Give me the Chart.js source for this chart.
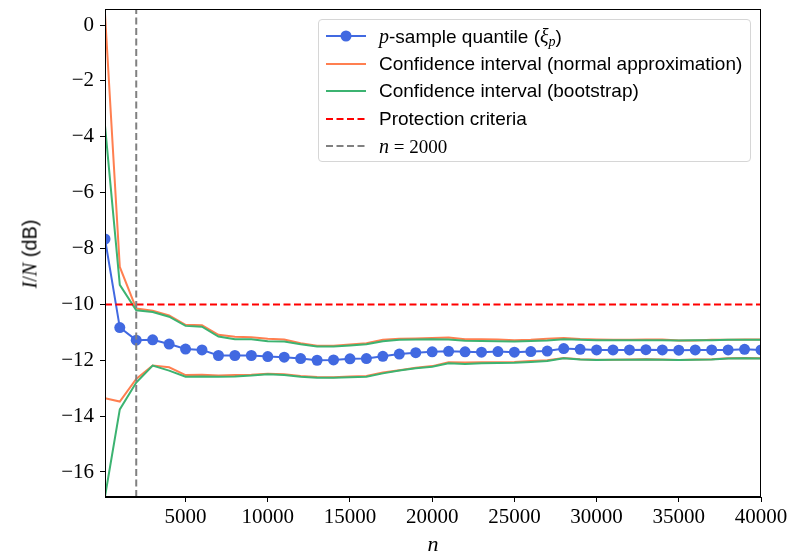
<!DOCTYPE html>
<html>
<head>
<meta charset="utf-8">
<script src="https://cdn.jsdelivr.net/npm/chart.js@4.4.1/dist/chart.umd.min.js"></script>
<style>
  body { margin: 0; background: #fff; }
  #wrap { position: relative; width: 789px; height: 557px; }
  #chart { position: absolute; left: 0; top: 0; }
  .serif { font-family: "Liberation Serif", "DejaVu Serif", serif; }
  .sans { font-family: "Liberation Sans", Arial, sans-serif; }
  #legend {
    position: absolute; left: 318px; top: 19px; width: 433px; height: 143px;
    border: 1px solid #d6d6d6; border-radius: 4px; background: rgba(255,255,255,0.8);
    box-sizing: border-box;
  }
  .row { position: absolute; left: 0; height: 28px; width: 100%; }
  .row svg { position: absolute; left: 7px; top: 0; }
  .row .txt {
    position: absolute; left: 60px; top: 0; line-height: 28px; font-size: 19px;
    white-space: nowrap; color: #000;
  }
  .row .txt i { font-size: 20px; }
  .row .txt sub { font-size: 14px; font-style: italic; vertical-align: -3px; line-height: 0; }
  #ylabel {
    position: absolute; left: 30px; top: 254px; transform: translate(-50%, -50%) rotate(-90deg);
    font-size: 20px; white-space: nowrap;
  }
  #xlabel {
    position: absolute; left: 433px; top: 544px; transform: translate(-50%, -50%);
    font-size: 22px;
  }
</style>
</head>
<body>
<div id="wrap">
  <canvas id="chart" width="789" height="557"></canvas>
  <div id="legend">
    <div class="row" style="top:2px">
      <svg width="44" height="28"><line x1="0" y1="14" x2="40" y2="14" stroke="#4169E1" stroke-width="2"/><circle cx="20" cy="14" r="5.5" fill="#4169E1"/></svg>
      <div class="txt sans"><i class="serif">p</i>-sample quantile (<i class="serif">ξ</i><sub class="serif">p</sub>)</div>
    </div>
    <div class="row" style="top:29.5px">
      <svg width="44" height="28"><line x1="0" y1="14" x2="40" y2="14" stroke="#FF7F50" stroke-width="2"/></svg>
      <div class="txt sans">Confidence interval (normal approximation)</div>
    </div>
    <div class="row" style="top:57px">
      <svg width="44" height="28"><line x1="0" y1="14" x2="40" y2="14" stroke="#3CB371" stroke-width="2"/></svg>
      <div class="txt sans">Confidence interval (bootstrap)</div>
    </div>
    <div class="row" style="top:84.5px">
      <svg width="44" height="28"><line x1="0" y1="14" x2="40" y2="14" stroke="#FF0000" stroke-width="2" stroke-dasharray="7,3.5"/></svg>
      <div class="txt sans">Protection criteria</div>
    </div>
    <div class="row" style="top:112px">
      <svg width="44" height="28"><line x1="0" y1="14" x2="40" y2="14" stroke="#808080" stroke-width="2" stroke-dasharray="7,3.5"/></svg>
      <div class="txt serif"><i>n</i> = 2000</div>
    </div>
  </div>
  <div id="ylabel"><i class="serif">I</i><span class="serif">/</span><i class="serif">N</i><span class="sans"> (dB)</span></div>
  <div id="xlabel" class="serif"><i>n</i></div>
</div>
<script>
const sampleSizes = [100, 1000, 2000, 3000, 4000, 5000, 6000, 7000, 8000, 9000, 10000,
  11000, 12000, 13000, 14000, 15000, 16000, 17000, 18000, 19000, 20000,
  21000, 22000, 23000, 24000, 25000, 26000, 27000, 28000, 29000, 30000,
  31000, 32000, 33000, 34000, 35000, 36000, 37000, 38000, 39000, 40000];

// p-sample quantile (dB)
const quantile = [-7.66, -10.83, -11.28, -11.27, -11.42, -11.6, -11.63, -11.83, -11.83, -11.83, -11.87,
  -11.89, -11.94, -12.0, -11.99, -11.95, -11.94, -11.86, -11.78, -11.73, -11.7,
  -11.68, -11.7, -11.71, -11.69, -11.71, -11.69, -11.67, -11.58, -11.61, -11.63,
  -11.63, -11.63, -11.62, -11.63, -11.64, -11.63, -11.63, -11.63, -11.61, -11.63];

// confidence interval, normal approximation
const normalUpper = [0.4, -8.66, -10.15, -10.23, -10.4, -10.73, -10.75, -11.09, -11.16, -11.18, -11.23,
  -11.26, -11.39, -11.48, -11.48, -11.44, -11.39, -11.27, -11.23, -11.22, -11.2,
  -11.19, -11.25, -11.25, -11.26, -11.28, -11.27, -11.23, -11.2, -11.24, -11.26,
  -11.27, -11.27, -11.26, -11.26, -11.29, -11.29, -11.27, -11.27, -11.26, -11.26];
const normalLower = [-13.36, -13.48, -12.67, -12.19, -12.25, -12.53, -12.52, -12.55, -12.53, -12.52, -12.48,
  -12.5, -12.56, -12.6, -12.61, -12.58, -12.56, -12.44, -12.36, -12.27, -12.21,
  -12.07, -12.08, -12.07, -12.07, -12.06, -12.03, -12.0, -11.92, -11.96, -11.98,
  -11.98, -11.97, -11.96, -11.97, -11.99, -11.97, -11.96, -11.93, -11.92, -11.93];

// confidence interval, bootstrap
const bootUpper = [-3.6, -9.3, -10.21, -10.27, -10.44, -10.77, -10.8, -11.15, -11.25, -11.25, -11.32,
  -11.33, -11.43, -11.51, -11.51, -11.47, -11.43, -11.32, -11.27, -11.26, -11.25,
  -11.26, -11.3, -11.31, -11.32, -11.33, -11.31, -11.29, -11.25, -11.27, -11.28,
  -11.28, -11.28, -11.28, -11.28, -11.29, -11.28, -11.28, -11.27, -11.27, -11.27];
const bootLower = [-16.88, -13.76, -12.8, -12.19, -12.37, -12.59, -12.58, -12.59, -12.58, -12.55, -12.5,
  -12.53, -12.59, -12.63, -12.63, -12.61, -12.59, -12.47, -12.37, -12.29, -12.23,
  -12.11, -12.13, -12.11, -12.1, -12.09, -12.06, -12.03, -11.93, -11.97, -11.99,
  -11.98, -11.98, -11.97, -11.98, -11.99, -11.98, -11.97, -11.94, -11.93, -11.94];

const protectionCriteria = -10;
const nMarked = 2000;

const xRange = [100, 40000];
const yRange = [-16.895, 0.573];
const xTickValues = [5000, 10000, 15000, 20000, 25000, 30000, 35000, 40000];
const yTickValues = [0, -2, -4, -6, -8, -10, -12, -14, -16];

const pts = (ys) => sampleSizes.map((n, i) => ({x: n, y: ys[i]}));
const tickFont = {family: '"Liberation Serif", "DejaVu Serif", serif', size: 21};

// matplotlib-style box round the plot
const frame = {
  id: 'frame',
  afterDraw(chart) {
    const {ctx, chartArea: a} = chart;
    ctx.save();
    ctx.strokeStyle = '#000';
    ctx.lineWidth = 1;
    ctx.strokeRect(a.left + 0.5, a.top + 0.5, a.right - a.left - 1, a.bottom - a.top - 1);
    ctx.restore();
  }
};

const noOverflow = (scale) => {
  scale.paddingTop = 0;
  scale.paddingBottom = 0;
  scale.paddingLeft = 0;
  scale.paddingRight = 0;
};

new Chart(document.getElementById('chart'), {
  type: 'line',
  data: {
    datasets: [
      {
        label: 'quantile',
        data: pts(quantile),
        borderColor: '#4169E1',
        backgroundColor: '#4169E1',
        borderWidth: 2,
        pointRadius: 5.5,
        pointBorderWidth: 0,
        order: 5,
      },
      {
        label: 'normal upper',
        data: pts(normalUpper),
        borderColor: '#FF7F50',
        borderWidth: 2,
        pointRadius: 0,
        order: 4,
      },
      {
        label: 'normal lower',
        data: pts(normalLower),
        borderColor: '#FF7F50',
        borderWidth: 2,
        pointRadius: 0,
        order: 4,
      },
      {
        label: 'bootstrap upper',
        data: pts(bootUpper),
        borderColor: '#3CB371',
        borderWidth: 2,
        pointRadius: 0,
        order: 3,
      },
      {
        label: 'bootstrap lower',
        data: pts(bootLower),
        borderColor: '#3CB371',
        borderWidth: 2,
        pointRadius: 0,
        order: 3,
      },
      {
        label: 'protection',
        data: [{x: xRange[0], y: protectionCriteria}, {x: xRange[1], y: protectionCriteria}],
        borderColor: '#FF0000',
        borderWidth: 2,
        borderDash: [7, 3.5],
        pointRadius: 0,
        order: 2,
      },
      {
        label: 'n = 2000',
        data: [{x: nMarked, y: yRange[0]}, {x: nMarked, y: yRange[1]}],
        borderColor: '#808080',
        borderWidth: 2,
        borderDash: [7, 3.5],
        pointRadius: 0,
        order: 1,
      },
    ],
  },
  options: {
    responsive: false,
    animation: false,
    devicePixelRatio: 1,
    layout: {padding: {left: 0, top: 9, right: 28, bottom: 0}},
    plugins: {legend: {display: false}, tooltip: {enabled: false}},
    scales: {
      x: {
        type: 'linear',
        min: xRange[0],
        max: xRange[1],
        afterBuildTicks: (scale) => { scale.ticks = xTickValues.map((v) => ({value: v})); },
        afterFit: (scale) => { scale.height = 60; noOverflow(scale); },
        grid: {drawOnChartArea: false, drawTicks: true, tickLength: 5, color: '#000'},
        border: {color: '#000'},
        ticks: {color: '#000', font: tickFont, padding: 3, maxRotation: 0, callback: (v) => String(v)},
      },
      y: {
        type: 'linear',
        min: yRange[0],
        max: yRange[1],
        afterBuildTicks: (scale) => { scale.ticks = yTickValues.map((v) => ({value: v})); },
        afterFit: (scale) => { scale.width = 105; noOverflow(scale); },
        grid: {drawOnChartArea: false, drawTicks: true, tickLength: 5, color: '#000'},
        border: {color: '#000'},
        ticks: {
          color: '#000',
          font: tickFont,
          padding: 6,
          callback: (v) => (v < 0 ? '\u2212' + Math.abs(v) : String(v)),
        },
      },
    },
  },
  plugins: [frame],
});
</script>
</body>
</html>
